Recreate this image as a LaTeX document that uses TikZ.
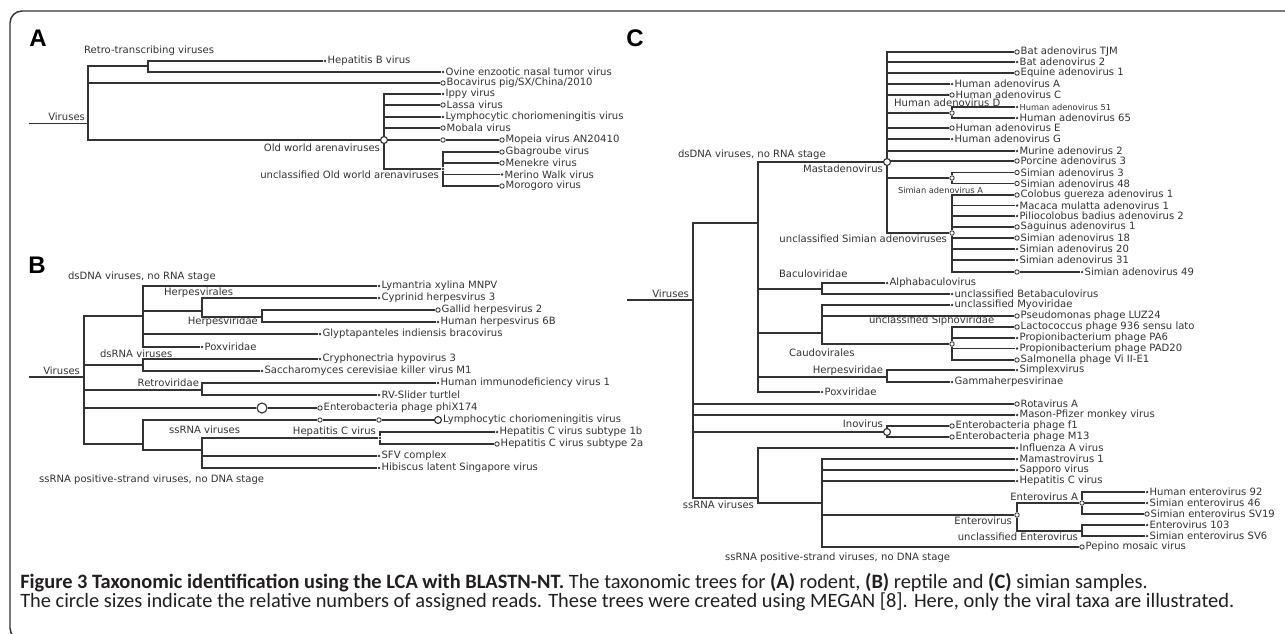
\documentclass[tikz,border=0pt]{standalone}
\usepackage{fontspec}
\setmainfont{Carlito}
\newfontfamily\vera{DejaVu Sans}
\newfontfamily\arialbold{Liberation Sans}
\usetikzlibrary{backgrounds}
\definecolor{Ink}{HTML}{333333}
\definecolor{Caption}{HTML}{231F20}
\tikzset{tree/.style ={
        draw=Ink,
        line width=0.95pt,
    },
    dot/.style ={
        circle,
        fill=Ink,
        inner sep=0pt,
        minimum size=1.9pt,
    },
    ring/.style ={
        circle,
        draw=Ink,
        fill=white,
        line width=0.65pt,
        inner sep=0pt,
        minimum size=3.3pt,
    },
    ringm/.style ={
        ring,
        line width=0.85pt,
        minimum size=5.2pt,
    },
    ringl/.style ={
        ring,
        line width=0.85pt,
        minimum size=7.5pt,
    },
    txt/.style ={
        font=\vera\fontsize{7.55}{9}\selectfont,
        text=Ink,
        inner sep=0.6pt,
    },
    txtsmall/.style ={
        txt,
        font=\vera\fontsize{6.2}{7}\selectfont,
    },
    leaf/.style ={label={[txt]right:{#1}}},
    leafsmall/.style ={label={[txtsmall]right:{#1}}},
    panel/.style ={
        font=\arialbold\bfseries\fontsize{18}{20}\selectfont,
        inner sep=0pt,
    },
    captxt/.style ={
        font=\fontsize{15.3}{18}\selectfont,
        text=Caption,
        inner sep=0pt,
        anchor=west,
    }}

\begin{document}
\begin{tikzpicture}[x=0.75pt, y=-0.75pt]
\useasboundingbox (0,0) rectangle (1285,633);
\draw[line width=1.1pt, draw=Ink, rounded corners=9pt] (10,11) rectangle (1400,640);

% (A) rodent
\node[panel] (pa) at (38,38) {A};
\coordinate (a0) at (29,123.5);
\coordinate (avir) at (88,123.5);
\coordinate (aretro) at (148,66);
\node[dot, leaf=Hepatitis B virus] (ahbv) at (325,61) {};
\node[dot, leaf=Ovine enzootic nasal tumor virus] (aovine) at (443,72) {};
\node[ring, leaf=Bocavirus pig/SX/China/2010] (aboca) at (443,83) {};
\node[ringm] (aowa) at (384,140) {};
\node[dot, leaf=Ippy virus] (aippy) at (443,94) {};
\node[ring, leaf=Lassa virus] (alassa) at (443,105) {};
\node[dot, leaf=Lymphocytic choriomeningitis virus] (alcmv) at (443,117) {};
\node[ring, leaf=Mobala virus] (amobala) at (443,128) {};
\node[ring] (amop0) at (443,140) {};
\node[ring, leaf=Mopeia virus AN20410] (amop) at (502,140) {};
\node[dot] (auowa) at (443,169) {};
\node[ring, leaf=Gbagroube virus] (agbag) at (502,152) {};
\node[ring, leaf=Menekre virus] (amenek) at (502,163) {};
\node[dot, leaf=Merino Walk virus] (amerino) at (502,174.5) {};
\node[ring, leaf=Morogoro virus] (amorog) at (502,186) {};
\node[txt, anchor=east] (lavir) at (86,117) {Viruses};
\node[txt, anchor=west] (laretro) at (83,51) {Retro-transcribing viruses};
\node[txt, anchor=east] (laowa) at (381,148) {Old world arenaviruses};
\node[txt, anchor=east] (lauowa) at (440,175) {unclassified Old world arenaviruses};

% (B) reptile
\node[panel] (pb) at (37,265) {B};
\coordinate (b0) at (29,377);
\coordinate (bvir) at (84,377);
\coordinate (bdsdna) at (143,316);
\node[dot, leaf=Lymantria xylina MNPV] (blyman) at (379,286) {};
\coordinate (bherpv) at (202,311);
\node[dot, leaf=Cyprinid herpesvirus 3] (bcypr) at (379,298) {};
\coordinate (bherpd) at (262,317);
\node[ring, leaf=Gallid herpesvirus 2] (bgallid) at (438,310) {};
\node[dot, leaf=Human herpesvirus 6B] (bhhv) at (438,322) {};
\node[dot, leaf=Glyptapanteles indiensis bracovirus] (bglypt) at (320,334) {};
\node[dot, leaf=Poxviridae] (bpox) at (202,347) {};
\coordinate (bdsrna) at (143,365);
\node[dot, leaf=Cryphonectria hypovirus 3] (bcryph) at (320,359) {};
\node[dot, leaf=Saccharomyces cerevisiae killer virus M1] (bsacch) at (262,371) {};
\coordinate (bretro) at (202,390);
\node[dot, leaf=Human immunodeficiency virus 1] (bhiv) at (438,383) {};
\node[dot, leaf=RV-Slider turtlel] (brv) at (379,395) {};
\node[ringl] (bphi0) at (262,408) {};
\node[ring, leaf=Enterobacteria phage phiX174] (bphi) at (320,408) {};
\coordinate (bssp) at (143,444);
\node[ring] (blcm1) at (320,420) {};
\node[ring] (blcm2) at (379,420) {};
\node[ringm, leaf=Lymphocytic choriomeningitis virus] (blcm) at (438,420) {};
\coordinate (bssrna) at (202,450);
\node[dot] (bhcv) at (380,438) {};
\node[dot, leaf=Hepatitis C virus subtype 1b] (bhcv1) at (497,432) {};
\node[ring, leaf=Hepatitis C virus subtype 2a] (bhcv2) at (497,444) {};
\node[dot, leaf=SFV complex] (bsfv) at (379,456) {};
\node[dot, leaf=Hibiscus latent Singapore virus] (bhibis) at (379,468) {};
\node[txt, anchor=west] (lbdsdna) at (67,277) {dsDNA viruses, no RNA stage};
\node[txt, anchor=west] (lbherpv) at (163,293) {Herpesvirales};
\node[txt, anchor=east] (lbherpd) at (259,322) {Herpesviridae};
\node[txt, anchor=west] (lbdsrna) at (99,354) {dsRNA viruses};
\node[txt, anchor=east] (lbvir) at (81,371) {Viruses};
\node[txt, anchor=east] (lbretro) at (200,383) {Retroviridae};
\node[txt, anchor=west] (lbssrna) at (168,430) {ssRNA viruses};
\node[txt, anchor=east] (lbhcv) at (377,432) {Hepatitis C virus};
\node[txt, anchor=west] (lbssp) at (38,480) {ssRNA positive-strand viruses, no DNA stage};

% (C) simian
\node[panel] (pc) at (635,38) {C};
\coordinate (c0) at (627,300);
\coordinate (cvir) at (693,300);
\coordinate (cdsdna) at (758,223);
\node[ringm] (cmast) at (887,162) {};
\node[ring, leaf=Bat adenovirus TJM] (cbattjm) at (1017,52) {};
\node[dot, leaf=Bat adenovirus 2] (cbat2) at (1017,62) {};
\node[ring, leaf=Equine adenovirus 1] (cequ) at (1017,73) {};
\node[dot, leaf=Human adenovirus A] (chada) at (952,84) {};
\node[ring, leaf=Human adenovirus C] (chadc) at (952,95) {};
\node[ring] (chadd) at (952,113) {};
\node[dot, leafsmall=Human adenovirus 51] (chad51) at (1017,107) {};
\node[dot, leaf=Human adenovirus 65] (chad65) at (1017,118) {};
\node[ring, leaf=Human adenovirus E] (chade) at (952,128) {};
\node[dot, leaf=Human adenovirus G] (chadg) at (952,139) {};
\node[dot, leaf=Murine adenovirus 2] (cmur) at (1017,151) {};
\node[ring, leaf=Porcine adenovirus 3] (cpor) at (1017,161) {};
\node[ring] (csima) at (952,178) {};
\node[ring, leaf=Simian adenovirus 3] (csa3) at (1017,172.5) {};
\node[ring, leaf=Simian adenovirus 48] (csa48) at (1017,183.5) {};
\node[ring] (cusa) at (952,233) {};
\node[ring, leaf=Colobus guereza adenovirus 1] (ccol) at (1017,195) {};
\node[dot, leaf=Macaca mulatta adenovirus 1] (cmac) at (1017,205.5) {};
\node[dot, leaf=Piliocolobus badius adenovirus 2] (cpil) at (1017,216) {};
\node[ring, leaf=Saguinus adenovirus 1] (csag) at (1017,227) {};
\node[ring, leaf=Simian adenovirus 18] (csa18) at (1017,238) {};
\node[dot, leaf=Simian adenovirus 20] (csa20) at (1017,249) {};
\node[dot, leaf=Simian adenovirus 31] (csa31) at (1017,260) {};
\node[ring] (csa490) at (1017,272) {};
\node[dot, leaf=Simian adenovirus 49] (csa49) at (1082,272) {};
\coordinate (cbacu) at (822,289);
\node[dot, leaf=Alphabaculovirus] (calpha) at (887,283) {};
\node[dot, leaf=unclassified Betabaculovirus] (cbeta) at (952,294) {};
\coordinate (ccaudo) at (822,333);
\node[dot, leaf=unclassified Myoviridae] (cmyo) at (952,305) {};
\node[ring, leaf=Pseudomonas phage LUZ24] (cpseu) at (1017,316) {};
\node[ring] (csipho) at (952,344) {};
\node[ring, leaf=Lactococcus phage 936 sensu lato] (clact) at (1017,327) {};
\node[dot, leaf=Propionibacterium phage PA6] (cpa6) at (1017,338) {};
\node[dot, leaf=Propionibacterium phage PAD20] (cpad20) at (1017,348.5) {};
\node[ring, leaf=Salmonella phage Vi II-E1] (csalm) at (1017,360) {};
\coordinate (cherp) at (887,377);
\node[dot, leaf=Simplexvirus] (csimplex) at (1017,370) {};
\node[dot, leaf=Gammaherpesvirinae] (cgamma) at (952,382) {};
\node[dot, leaf=Poxviridae] (cpox) at (822,392) {};
\node[ring, leaf=Rotavirus A] (crota) at (1017,404) {};
\node[dot, leaf=Mason-Pfizer monkey virus] (cmason) at (1017,415) {};
\node[ringm] (cino) at (887,432) {};
\node[ring, leaf=Enterobacteria phage f1] (cf1) at (952,426) {};
\node[ring, leaf=Enterobacteria phage M13] (cm13) at (952,437) {};
\coordinate (cssrna) at (758,498);
\node[dot, leaf=Influenza A virus] (cflu) at (1017,448) {};
\coordinate (cssp) at (822,503);
\node[dot, leaf=Mamastrovirus 1] (cmama) at (1017,459) {};
\node[dot, leaf=Sapporo virus] (csapp) at (1017,470) {};
\node[dot, leaf=Hepatitis C virus] (chcv) at (1017,481) {};
\node[ring] (cent) at (1017,515) {};
\node[ring] (centa) at (1082,503) {};
\node[dot, leaf=Human enterovirus 92] (che92) at (1147,492) {};
\node[dot, leaf=Simian enterovirus 46] (cse46) at (1147,503) {};
\node[ring, leaf=Simian enterovirus SV19] (csv19) at (1147,514) {};
\coordinate (cuent) at (1082,531);
\node[dot, leaf=Enterovirus 103] (cev103) at (1147,525) {};
\node[dot, leaf=Simian enterovirus SV6] (csv6) at (1147,536) {};
\node[ring, leaf=Pepino mosaic virus] (cpep) at (1082,547) {};
\node[txt, anchor=west] (lcdsdna) at (677,155) {dsDNA viruses, no RNA stage};
\node[txt, anchor=east] (lcmast) at (884,169) {Mastadenovirus};
\node[txt, anchor=west] (lchadd) at (893,103) {Human adenovirus D};
\node[txtsmall, anchor=west] (lcsima) at (897,190) {Simian adenovirus A};
\node[txt, anchor=east] (lcusa) at (948,239) {unclassified Simian adenoviruses};
\node[txt, anchor=east] (lcvir) at (690,294) {Viruses};
\node[txt, anchor=west] (lcbacu) at (778,274) {Baculoviridae};
\node[txt, anchor=west] (lcsipho) at (868,321) {unclassified Siphoviridae};
\node[txt, anchor=west] (lccaudo) at (788,353) {Caudovirales};
\node[txt, anchor=east] (lcherp) at (884,371) {Herpesviridae};
\node[txt, anchor=east] (lcino) at (884,424) {Inovirus};
\node[txt, anchor=east] (lcssrna) at (755,505) {ssRNA viruses};
\node[txt, anchor=east] (lcenta) at (1079,497) {Enterovirus A};
\node[txt, anchor=east] (lcent) at (1013,521) {Enterovirus};
\node[txt, anchor=east] (lcuent) at (1079,537) {unclassified Enterovirus};
\node[txt, anchor=west] (lcssp) at (724,558) {ssRNA positive-strand viruses, no DNA stage};

% branches
\begin{scope}[on background layer]
\draw[tree] (a0) -- (avir) (b0) -- (bvir) (c0) -- (cvir);
\foreach \k in {aretro,aboca,aowa} \draw[tree] (avir) |- (\k);
\foreach \k in {ahbv,aovine} \draw[tree] (aretro) |- (\k);
\foreach \k in {aippy,alassa,alcmv,amobala,amop0,auowa} \draw[tree] (aowa) |- (\k);
\draw[tree] (amop0) -- (amop);
\foreach \k in {agbag,amenek,amerino,amorog} \draw[tree] (auowa) |- (\k);
\foreach \k in {bdsdna,bdsrna,bretro,bphi0,bssp} \draw[tree] (bvir) |- (\k);
\draw[tree] (bphi0) -- (bphi);
\foreach \k in {blyman,bherpv,bglypt,bpox} \draw[tree] (bdsdna) |- (\k);
\foreach \k in {bcypr,bherpd} \draw[tree] (bherpv) |- (\k);
\foreach \k in {bgallid,bhhv} \draw[tree] (bherpd) |- (\k);
\foreach \k in {bcryph,bsacch} \draw[tree] (bdsrna) |- (\k);
\foreach \k in {bhiv,brv} \draw[tree] (bretro) |- (\k);
\foreach \k in {blcm1,bssrna} \draw[tree] (bssp) |- (\k);
\draw[tree] (blcm1) -- (blcm2) -- (blcm);
\foreach \k in {bhcv,bsfv,bhibis} \draw[tree] (bssrna) |- (\k);
\foreach \k in {bhcv1,bhcv2} \draw[tree] (bhcv) |- (\k);
\foreach \k in {cdsdna,crota,cmason,cino,cssrna} \draw[tree] (cvir) |- (\k);
\foreach \k in {cmast,cbacu,ccaudo,cherp,cpox} \draw[tree] (cdsdna) |- (\k);
\foreach \k in {cbattjm,cbat2,cequ,chada,chadc,chadd,chade,chadg,cmur,cpor,csima,cusa} \draw[tree] (cmast) |- (\k);
\foreach \k in {chad51,chad65} \draw[tree] (chadd) |- (\k);
\foreach \k in {csa3,csa48} \draw[tree] (csima) |- (\k);
\foreach \k in {ccol,cmac,cpil,csag,csa18,csa20,csa31,csa490} \draw[tree] (cusa) |- (\k);
\draw[tree] (csa490) -- (csa49);
\foreach \k in {calpha,cbeta} \draw[tree] (cbacu) |- (\k);
\foreach \k in {cmyo,cpseu,csipho} \draw[tree] (ccaudo) |- (\k);
\foreach \k in {clact,cpa6,cpad20,csalm} \draw[tree] (csipho) |- (\k);
\foreach \k in {csimplex,cgamma} \draw[tree] (cherp) |- (\k);
\foreach \k in {cf1,cm13} \draw[tree] (cino) |- (\k);
\foreach \k in {cflu,cssp} \draw[tree] (cssrna) |- (\k);
\foreach \k in {cmama,csapp,chcv,cent,cpep} \draw[tree] (cssp) |- (\k);
\foreach \k in {centa,cuent} \draw[tree] (cent) |- (\k);
\foreach \k in {che92,cse46,csv19} \draw[tree] (centa) |- (\k);
\foreach \k in {cev103,csv6} \draw[tree] (cuent) |- (\k);
\end{scope}

% caption
\node[captxt] (cap1) at (20,583) {\textbf{Figure 3 Taxonomic identification using the LCA with BLASTN-NT.} The taxonomic trees for \textbf{(A)} rodent, \textbf{(B)} reptile and \textbf{(C)} simian samples.};
\node[captxt] (cap2) at (20,602) {The circle sizes indicate the relative numbers of assigned reads. These trees were created using MEGAN [8]. Here, only the viral taxa are illustrated.};
\end{tikzpicture}
\end{document}
